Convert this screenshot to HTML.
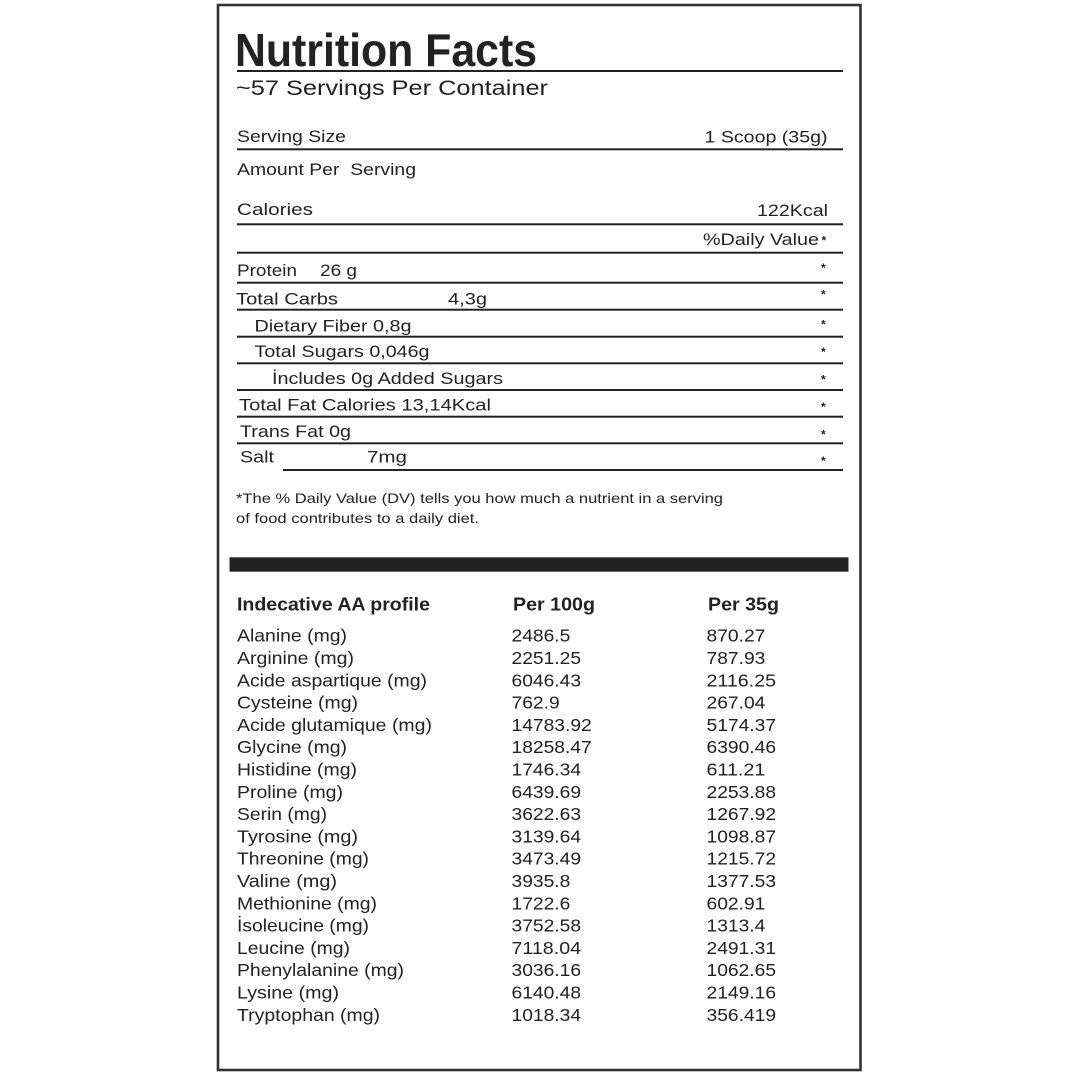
<!DOCTYPE html>
<html>
<head>
<meta charset="utf-8">
<style>
  html,body{margin:0;padding:0;background:#fff;}
  svg{display:block;}
  text{font-family:"Liberation Sans", Arial, sans-serif; fill:#222;}
</style>
</head>
<body>
<svg width="1080" height="1080" viewBox="0 0 1080 1080" xmlns="http://www.w3.org/2000/svg">
  <rect x="0" y="0" width="1080" height="1080" fill="#fff"/>
  <!-- outer border -->
  <rect x="218" y="5" width="642.5" height="1065" fill="none" stroke="#333" stroke-width="2.6"/>

  <!-- heading -->
  <text x="235" y="66" font-size="46" font-weight="bold" textLength="302" lengthAdjust="spacingAndGlyphs">Nutrition Facts</text>
  <rect x="237" y="70" width="606" height="2" fill="#222"/>
  <text x="236" y="95" font-size="21" textLength="312" lengthAdjust="spacingAndGlyphs">~57 Servings Per Container</text>

  <!-- serving size -->
  <text x="237" y="142" font-size="16.5" textLength="109" lengthAdjust="spacingAndGlyphs">Serving Size</text>
  <text x="704.5" y="142.5" font-size="16.5" textLength="123" lengthAdjust="spacingAndGlyphs">1 Scoop (35g)</text>
  <rect x="237" y="148.3" width="606" height="2" fill="#222"/>

  <text x="237" y="175" font-size="16.5" textLength="179" lengthAdjust="spacingAndGlyphs" xml:space="preserve">Amount Per&#160; Serving</text>

  <text x="237" y="215" font-size="16.5" textLength="76" lengthAdjust="spacingAndGlyphs">Calories</text>
  <text x="757" y="216" font-size="16.5" textLength="71" lengthAdjust="spacingAndGlyphs">122Kcal</text>
  <rect x="237" y="223.3" width="606" height="2" fill="#222"/>

  <text x="703" y="245" font-size="16.5" textLength="116" lengthAdjust="spacingAndGlyphs">%Daily Value</text>
  <text x="821.5" y="244.5" font-size="12" font-weight="bold">*</text>
  <rect x="237" y="251.7" width="606" height="2" fill="#222"/>

  <!-- protein -->
  <text x="237" y="276" font-size="16.5" textLength="60" lengthAdjust="spacingAndGlyphs">Protein</text>
  <text x="320" y="276" font-size="16.5" textLength="37" lengthAdjust="spacingAndGlyphs">26 g</text>
  <text x="821" y="272" font-size="12" font-weight="bold">*</text>
  <rect x="237" y="281.7" width="606" height="2" fill="#222"/>

  <!-- carbs -->
  <text x="236" y="304.5" font-size="16.5" textLength="102" lengthAdjust="spacingAndGlyphs">Total Carbs</text>
  <text x="448" y="304.5" font-size="16.5" textLength="39" lengthAdjust="spacingAndGlyphs">4,3g</text>
  <text x="821" y="298.5" font-size="12" font-weight="bold">*</text>
  <rect x="237" y="308.7" width="606" height="2" fill="#222"/>

  <text x="254.5" y="331.5" font-size="16.5" textLength="157" lengthAdjust="spacingAndGlyphs">Dietary Fiber 0,8g</text>
  <text x="821" y="328.5" font-size="12" font-weight="bold">*</text>
  <rect x="237" y="335.7" width="606" height="2" fill="#222"/>

  <text x="254.5" y="357" font-size="16.5" textLength="175" lengthAdjust="spacingAndGlyphs">Total Sugars 0,046g</text>
  <text x="821" y="356" font-size="12" font-weight="bold">*</text>
  <rect x="237" y="362.3" width="606" height="2" fill="#222"/>

  <text x="272" y="384" font-size="16.5" textLength="231" lengthAdjust="spacingAndGlyphs">İncludes 0g Added Sugars</text>
  <text x="821" y="383.5" font-size="12" font-weight="bold">*</text>
  <rect x="237" y="389" width="606" height="2" fill="#222"/>

  <text x="239" y="410.5" font-size="16.5" textLength="252" lengthAdjust="spacingAndGlyphs">Total Fat Calories 13,14Kcal</text>
  <text x="821" y="411" font-size="12" font-weight="bold">*</text>
  <rect x="237" y="415.7" width="606" height="2" fill="#222"/>

  <text x="240" y="437" font-size="16.5" textLength="111" lengthAdjust="spacingAndGlyphs">Trans Fat 0g</text>
  <text x="821" y="438.5" font-size="12" font-weight="bold">*</text>
  <rect x="237" y="442.3" width="606" height="2" fill="#222"/>

  <text x="240" y="462.5" font-size="16.5" textLength="34" lengthAdjust="spacingAndGlyphs">Salt</text>
  <text x="367" y="462.5" font-size="16.5" textLength="40" lengthAdjust="spacingAndGlyphs">7mg</text>
  <text x="821" y="465" font-size="12" font-weight="bold">*</text>
  <rect x="283" y="469" width="560" height="2" fill="#222"/>

  <!-- footnote -->
  <text x="236" y="503" font-size="14" textLength="487" lengthAdjust="spacingAndGlyphs">*The % Daily Value (DV) tells you how much a nutrient in a serving</text>
  <text x="236" y="523" font-size="14" textLength="243" lengthAdjust="spacingAndGlyphs">of food contributes to a daily diet.</text>

  <!-- black bar -->
  <rect x="229.5" y="557.3" width="619" height="14.4" fill="#222"/>

  <!-- AA profile header -->
  <text x="237" y="610.7" font-size="18.5" font-weight="bold" textLength="193" lengthAdjust="spacingAndGlyphs">Indecative AA profile</text>
  <text x="513" y="610.7" font-size="18.5" font-weight="bold" textLength="82" lengthAdjust="spacingAndGlyphs">Per 100g</text>
  <text x="708" y="610.7" font-size="18.5" font-weight="bold" textLength="71" lengthAdjust="spacingAndGlyphs">Per 35g</text>

  <!-- AA rows -->
  <g font-size="17.5">
    <text x="237" y="641.7" textLength="110" lengthAdjust="spacingAndGlyphs">Alanine (mg)</text>
    <text x="511.5" y="641.7" textLength="58.85" lengthAdjust="spacingAndGlyphs">2486.5</text>
    <text x="706.5" y="641.7" textLength="58.85" lengthAdjust="spacingAndGlyphs">870.27</text>

    <text x="237" y="664" textLength="117" lengthAdjust="spacingAndGlyphs">Arginine (mg)</text>
    <text x="511.5" y="664" textLength="69.55" lengthAdjust="spacingAndGlyphs">2251.25</text>
    <text x="706.5" y="664" textLength="58.85" lengthAdjust="spacingAndGlyphs">787.93</text>

    <text x="237" y="686.3" textLength="190" lengthAdjust="spacingAndGlyphs">Acide aspartique (mg)</text>
    <text x="511.5" y="686.3" textLength="69.55" lengthAdjust="spacingAndGlyphs">6046.43</text>
    <text x="706.5" y="686.3" textLength="69.55" lengthAdjust="spacingAndGlyphs">2116.25</text>

    <text x="237" y="708.6" textLength="121" lengthAdjust="spacingAndGlyphs">Cysteine (mg)</text>
    <text x="511.5" y="708.6" textLength="48.15" lengthAdjust="spacingAndGlyphs">762.9</text>
    <text x="706.5" y="708.6" textLength="58.85" lengthAdjust="spacingAndGlyphs">267.04</text>

    <text x="237" y="730.9" textLength="195" lengthAdjust="spacingAndGlyphs">Acide glutamique (mg)</text>
    <text x="511.5" y="730.9" textLength="80.25" lengthAdjust="spacingAndGlyphs">14783.92</text>
    <text x="706.5" y="730.9" textLength="69.55" lengthAdjust="spacingAndGlyphs">5174.37</text>

    <text x="237" y="753.2" textLength="110" lengthAdjust="spacingAndGlyphs">Glycine (mg)</text>
    <text x="511.5" y="753.2" textLength="80.25" lengthAdjust="spacingAndGlyphs">18258.47</text>
    <text x="706.5" y="753.2" textLength="69.55" lengthAdjust="spacingAndGlyphs">6390.46</text>

    <text x="237" y="775.5" textLength="120" lengthAdjust="spacingAndGlyphs">Histidine (mg)</text>
    <text x="511.5" y="775.5" textLength="69.55" lengthAdjust="spacingAndGlyphs">1746.34</text>
    <text x="706.5" y="775.5" textLength="58.85" lengthAdjust="spacingAndGlyphs">611.21</text>

    <text x="237" y="797.8" textLength="106" lengthAdjust="spacingAndGlyphs">Proline (mg)</text>
    <text x="511.5" y="797.8" textLength="69.55" lengthAdjust="spacingAndGlyphs">6439.69</text>
    <text x="706.5" y="797.8" textLength="69.55" lengthAdjust="spacingAndGlyphs">2253.88</text>

    <text x="237" y="820.1" textLength="90" lengthAdjust="spacingAndGlyphs">Serin (mg)</text>
    <text x="511.5" y="820.1" textLength="69.55" lengthAdjust="spacingAndGlyphs">3622.63</text>
    <text x="706.5" y="820.1" textLength="69.55" lengthAdjust="spacingAndGlyphs">1267.92</text>

    <text x="237" y="842.4" textLength="121" lengthAdjust="spacingAndGlyphs">Tyrosine (mg)</text>
    <text x="511.5" y="842.4" textLength="69.55" lengthAdjust="spacingAndGlyphs">3139.64</text>
    <text x="706.5" y="842.4" textLength="69.55" lengthAdjust="spacingAndGlyphs">1098.87</text>

    <text x="237" y="864.7" textLength="132" lengthAdjust="spacingAndGlyphs">Threonine (mg)</text>
    <text x="511.5" y="864.7" textLength="69.55" lengthAdjust="spacingAndGlyphs">3473.49</text>
    <text x="706.5" y="864.7" textLength="69.55" lengthAdjust="spacingAndGlyphs">1215.72</text>

    <text x="237" y="887" textLength="100" lengthAdjust="spacingAndGlyphs">Valine (mg)</text>
    <text x="511.5" y="887" textLength="58.85" lengthAdjust="spacingAndGlyphs">3935.8</text>
    <text x="706.5" y="887" textLength="69.55" lengthAdjust="spacingAndGlyphs">1377.53</text>

    <text x="237" y="909.3" textLength="140" lengthAdjust="spacingAndGlyphs">Methionine (mg)</text>
    <text x="511.5" y="909.3" textLength="58.85" lengthAdjust="spacingAndGlyphs">1722.6</text>
    <text x="706.5" y="909.3" textLength="58.85" lengthAdjust="spacingAndGlyphs">602.91</text>

    <text x="237" y="931.6" textLength="132" lengthAdjust="spacingAndGlyphs">İsoleucine (mg)</text>
    <text x="511.5" y="931.6" textLength="69.55" lengthAdjust="spacingAndGlyphs">3752.58</text>
    <text x="706.5" y="931.6" textLength="58.85" lengthAdjust="spacingAndGlyphs">1313.4</text>

    <text x="237" y="953.9" textLength="113" lengthAdjust="spacingAndGlyphs">Leucine (mg)</text>
    <text x="511.5" y="953.9" textLength="69.55" lengthAdjust="spacingAndGlyphs">7118.04</text>
    <text x="706.5" y="953.9" textLength="69.55" lengthAdjust="spacingAndGlyphs">2491.31</text>

    <text x="237" y="976.2" textLength="167" lengthAdjust="spacingAndGlyphs">Phenylalanine (mg)</text>
    <text x="511.5" y="976.2" textLength="69.55" lengthAdjust="spacingAndGlyphs">3036.16</text>
    <text x="706.5" y="976.2" textLength="69.55" lengthAdjust="spacingAndGlyphs">1062.65</text>

    <text x="237" y="998.5" textLength="102" lengthAdjust="spacingAndGlyphs">Lysine (mg)</text>
    <text x="511.5" y="998.5" textLength="69.55" lengthAdjust="spacingAndGlyphs">6140.48</text>
    <text x="706.5" y="998.5" textLength="69.55" lengthAdjust="spacingAndGlyphs">2149.16</text>

    <text x="237" y="1020.8" textLength="143" lengthAdjust="spacingAndGlyphs">Tryptophan (mg)</text>
    <text x="511.5" y="1020.8" textLength="69.55" lengthAdjust="spacingAndGlyphs">1018.34</text>
    <text x="706.5" y="1020.8" textLength="69.55" lengthAdjust="spacingAndGlyphs">356.419</text>
  </g>
</svg>
</body>
</html>
